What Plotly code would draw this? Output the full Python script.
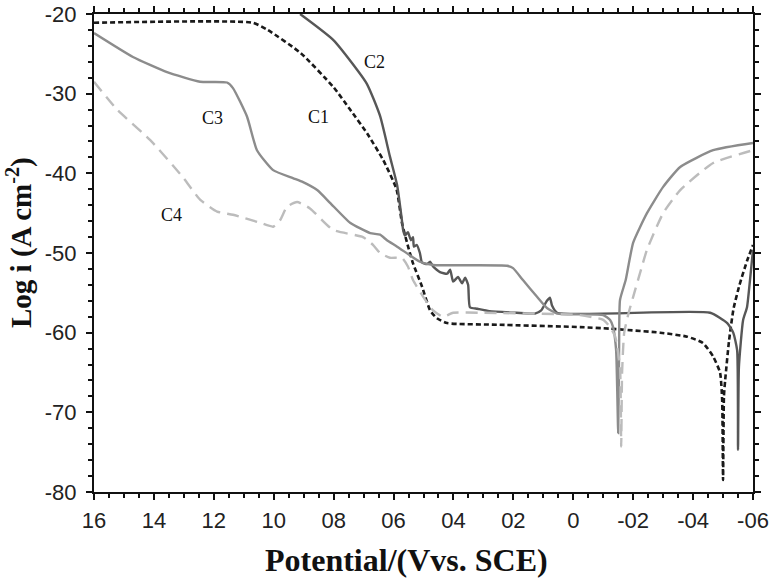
import plotly.graph_objects as go

# Potential (V vs. SCE) and log i values
c1_x = [1.6, 1.07, 1.02, 0.91, 0.80, 0.745, 0.688, 0.635, 0.59, 0.572, 0.555, 0.535, 0.505,
        0.478, 0.455, 0.421, 0.254, -0.023, -0.123, -0.29, -0.38, -0.433, -0.467, -0.49,
        -0.497, -0.50, -0.503, -0.507, -0.52, -0.535, -0.555, -0.58, -0.6]
c1_y = [-21.1, -21.1, -22.0, -24.9, -29.2, -32.0, -35.0, -38.3, -42.0, -46.2, -48.7, -51.3, -54.2,
        -57.2, -58.2, -58.8, -59.0, -59.3, -59.5, -60.0, -60.5, -61.3, -63.0, -65.0,
        -68.4, -78.5, -68.0, -66.0, -61.0, -57.0, -54.0, -51.0, -49.0]

c2_x = [0.912, 0.80, 0.69, 0.645, 0.612, 0.588, 0.572, 0.568, 0.562, 0.552, 0.542, 0.535, 0.532,
        0.522, 0.512, 0.505, 0.488, 0.478, 0.468, 0.445, 0.421, 0.411, 0.401, 0.385, 0.371,
        0.361, 0.351, 0.345, 0.32, 0.28, 0.19, 0.128, 0.107, 0.088, 0.078, 0.071, 0.054,
        -0.457, -0.514, -0.534, -0.547, -0.55, -0.553, -0.567, -0.58, -0.59, -0.6]
c2_y = [-20.0, -23.3, -28.7, -32.8, -37.9, -41.5, -45.9, -47.1, -47.8, -47.4, -48.4, -48.0, -49.2,
        -49.0, -50.0, -51.2, -51.4, -51.1, -51.7, -52.4, -52.6, -52.1, -53.6, -53.0, -53.8,
        -53.1, -54.0, -56.8, -57.0, -57.3, -57.5, -57.6, -57.2, -56.0, -55.6, -56.6, -57.5,
        -57.5, -58.8, -60.0, -62.2, -74.7, -64.3, -58.4, -56.8, -53.4, -49.6]

c3_x = [1.6, 1.47, 1.356, 1.246, 1.156, 1.136, 1.089, 1.056, 1.002, 0.936, 0.902, 0.855, 0.812,
        0.745, 0.678, 0.645, 0.622, 0.588, 0.545, 0.512, 0.468, 0.221, 0.201, 0.168, 0.121,
        0.088, 0.054, -0.023, -0.1, -0.123, -0.133, -0.143, -0.15, -0.153, -0.156, -0.175,
        -0.2, -0.246, -0.3, -0.357, -0.467, -0.6]
c3_y = [-22.4, -25.4, -27.3, -28.5, -28.6, -29.3, -32.9, -37.1, -39.6, -40.6, -41.1, -42.1, -43.7,
        -46.2, -47.5, -47.7, -48.4, -49.2, -50.3, -51.1, -51.5, -51.6, -51.9, -53.4, -55.5,
        -56.9, -57.6, -57.7, -57.8, -58.4, -59.3, -62.2, -72.6, -62.0, -55.9, -53.4,
        -48.7, -45.0, -41.7, -39.2, -37.1, -36.2]

c4_x = [1.6, 1.523, 1.413, 1.303, 1.246, 1.189, 1.136, 1.046, 1.002, 0.979, 0.956, 0.922, 0.879,
        0.802, 0.702, 0.668, 0.645, 0.612, 0.572, 0.552, 0.535, 0.501, 0.468, 0.435, 0.401,
        0.311, -0.023, -0.1, -0.123, -0.14, -0.156, -0.16, -0.163, -0.17, -0.185, -0.2,
        -0.223, -0.246, -0.3, -0.357, -0.467, -0.6]
c4_y = [-28.5, -32.0, -35.8, -40.5, -43.3, -44.8, -45.2, -46.2, -46.7, -45.9, -44.2, -43.6, -44.4,
        -47.1, -48.0, -49.0, -50.0, -50.6, -50.6, -51.7, -53.4, -55.5, -57.2, -58.0, -57.5,
        -57.5, -57.8, -58.4, -59.3, -60.5, -64.3, -74.3, -65.0, -60.0, -57.5, -55.5,
        -52.5, -49.6, -45.0, -42.1, -38.7, -37.1]

# tick labels as printed in the figure (plotly's default label -> shown label)
x_label_default = ["1.6", "1.4", "1.2", "1", "1.0", "0.8", "0.6", "0.4", "0.2", "0",
                   "\u22120.2", "\u22120.4", "\u22120.6"]
x_label_shown = ["16", "14", "12", "10", "10", "08", "06", "04", "02", "0",
                 "-02", "-04", "-06"]
y_label_default = ["\u221280", "\u221270", "\u221260", "\u221250", "\u221240", "\u221230", "\u221220"]
y_label_shown = ["-80", "-70", "-60", "-50", "-40", "-30", "-20"]

labels = ["C1", "C2", "C3", "C4"]
label_x = [0.852, 0.662, 1.206, 1.34]
label_y = [-32.9, -26.0, -33.1, -45.2]

fig = go.Figure()

smooth = dict(shape="spline", smoothing=0.5)
fig.add_trace(go.Scatter(x=c1_x, y=c1_y, mode="lines", name="C1",
                         line=dict(color="#1a1a1a", width=2.6, dash="5px,3px", **smooth)))
fig.add_trace(go.Scatter(x=c2_x, y=c2_y, mode="lines", name="C2",
                         line=dict(color="#575757", width=2.4, **smooth)))
fig.add_trace(go.Scatter(x=c3_x, y=c3_y, mode="lines", name="C3",
                         line=dict(color="#8c8c8c", width=2.4, **smooth)))
fig.add_trace(go.Scatter(x=c4_x, y=c4_y, mode="lines", name="C4",
                         line=dict(color="#bcbcbc", width=2.4, dash="12px,7px", **smooth)))

for txt, lx, ly in zip(labels, label_x, label_y):
    fig.add_annotation(x=lx, y=ly, text=txt, showarrow=False,
                       font=dict(family="Liberation Serif", size=18, color="#111"))

# axis titles
fig.add_annotation(xref="paper", yref="paper", x=0.474, y=-0.142,
                   text="<b>Potential/(Vvs. SCE)</b>",
                   showarrow=False, xanchor="center", yanchor="middle",
                   font=dict(family="Liberation Serif", size=32, color="#111"))
fig.add_annotation(xref="paper", yref="paper", x=-0.113, y=0.522,
                   text="<b>Log i (A cm<sup>-2</sup>)</b>",
                   showarrow=False, xanchor="center", yanchor="middle", textangle=-90,
                   font=dict(family="Liberation Serif", size=29, color="#111"))

axis_common = dict(showline=True, linecolor="#111", linewidth=2, mirror="allticks",
                   ticks="outside", ticklen=6, tickwidth=1.5, tickcolor="#111",
                   showgrid=False, zeroline=False, automargin=False,
                   tickfont=dict(family="Liberation Sans", size=22, color="#222"))

fig.update_xaxes(range=[1.6, -0.6], tickmode="linear", tick0=0, dtick=0.2,
                 labelalias=dict(zip(x_label_default, x_label_shown)),
                 ticklabelstandoff=2,
                 minor=dict(tickmode="linear", tick0=0, dtick=0.05, ticks="outside",
                            ticklen=4, tickwidth=1.5, tickcolor="#111", showgrid=False),
                 **axis_common)
fig.update_yaxes(range=[-80, -20], tickmode="linear", tick0=0, dtick=10,
                 labelalias=dict(zip(y_label_default, y_label_shown)),
                 ticklabelstandoff=5,
                 minor=dict(tickmode="linear", tick0=0, dtick=2, ticks="outside",
                            ticklen=4, tickwidth=1.5, tickcolor="#111", showgrid=False),
                 **axis_common)

fig.update_layout(width=770, height=581, showlegend=False,
                  margin=dict(l=94, r=17, t=14, b=89),
                  plot_bgcolor="white", paper_bgcolor="white")

# drop the browser's default page margin so the figure sits at the window corner
fig.write_html("out.html", config={"displayModeBar": False},
               post_script="document.body.style.margin='0';")
